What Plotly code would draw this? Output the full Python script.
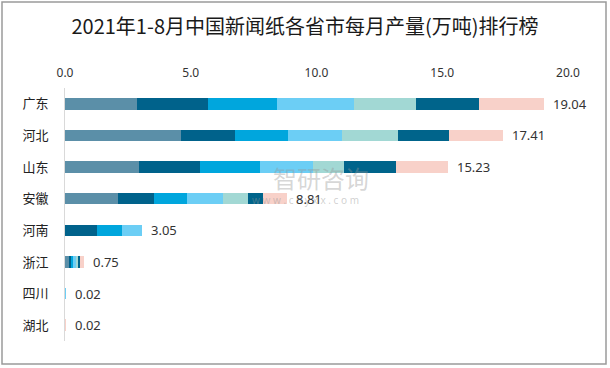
import plotly.graph_objects as go

provinces = ["广东", "河北", "山东", "安徽", "河南", "浙江", "四川", "湖北"]
months = ["1-2月", "3月", "4月", "5月", "6月", "7月", "8月"]
m12 = [2.87, 4.62, 2.94, 2.11, 0.00, 0.16, 0.00, 0.00]
m3 = [2.83, 2.15, 2.43, 1.43, 1.28, 0.08, 0.00, 0.00]
m4 = [2.71, 2.11, 2.39, 1.31, 1.00, 0.08, 0.00, 0.00]
m5 = [3.10, 2.15, 2.11, 1.43, 0.77, 0.12, 0.02, 0.00]
m6 = [2.43, 2.23, 1.23, 0.99, 0.00, 0.08, 0.00, 0.00]
m7 = [2.51, 1.99, 2.07, 0.60, 0.00, 0.08, 0.00, 0.00]
m8 = [2.59, 2.16, 2.06, 0.94, 0.00, 0.15, 0.00, 0.02]
totals = [19.04, 17.41, 15.23, 8.81, 3.05, 0.75, 0.02, 0.02]
x_ticks = [0, 5, 10, 15, 20]

series = [m12, m3, m4, m5, m6, m7, m8]
colors = ["#5B8FA8", "#00628B", "#00A6DD", "#6CCEF5", "#A2D8D4", "#00648B", "#F8D1C9"]

fig = go.Figure()
for name, vals, col in zip(months, series, colors):
    fig.add_trace(go.Bar(
        y=provinces, x=vals, name=name, orientation="h",
        marker=dict(color=col, line=dict(width=0)),
        showlegend=False, hoverinfo="x+name",
    ))

W, H = 610, 368
ml, mr, mt, mb = 65, 42, 88, 27
pw, ph = W - ml - mr, H - mt - mb

def px(x):
    return (x - ml) / pw

def py(y):
    return (H - mb - y) / ph

annotations = [
    dict(text="智研咨询", xref="paper", yref="paper", x=px(321), y=py(177),
         showarrow=False, font=dict(size=24, color="rgba(150,150,150,0.4)", family="Noto Sans CJK SC")),
    dict(text="w w w . c h y x x . c o m", xref="paper", yref="paper", x=px(305), y=py(200),
         showarrow=False, font=dict(size=10, color="rgba(150,150,150,0.45)", family="Noto Sans, sans-serif")),
]
for p, t in zip(provinces, totals):
    annotations.append(dict(
        x=t, y=p, xref="x", yref="y", text=f"{t:.2f}", showarrow=False,
        xanchor="left", yanchor="middle", xshift=7,
        font=dict(size=13, color="#333333", family="Noto Sans, sans-serif"),
    ))

fig.update_layout(
    width=W, height=H,
    margin=dict(l=ml, r=mr, t=mt, b=mb),
    barmode="stack", bargap=0.635,
    plot_bgcolor="white", paper_bgcolor="white",
    title=dict(
        text="2021年1-8月中国新闻纸各省市每月产量(万吨)排行榜",
        x=0.5, xanchor="center", y=1 - 27 / H, yanchor="middle",
        yref="container",
        font=dict(size=20, color="#1a1a1a", family="Noto Sans CJK SC"),
    ),
    xaxis=dict(
        side="top", range=[0, 20], tickvals=x_ticks, tickformat=".1f",
        showgrid=False, zeroline=False, showline=False, automargin=False,
        ticklabelstandoff=8,
        tickfont=dict(size=12, color="#333333", family="Noto Sans, sans-serif"),
    ),
    yaxis=dict(
        categoryorder="array", categoryarray=provinces, autorange="reversed",
        showgrid=False, zeroline=False, showline=True, linecolor="#d9d9d9", linewidth=1,
        ticklabelstandoff=13, automargin=False,
        tickfont=dict(size=13, color="#222222", family="Noto Sans CJK SC"),
    ),
    shapes=[dict(
        type="rect", xref="paper", yref="paper",
        x0=px(2), x1=px(606), y0=py(364), y1=py(2),
        line=dict(color="#9a9a9a", width=1.5), fillcolor="rgba(0,0,0,0)", layer="below",
    )],
    annotations=annotations,
)

fig.write_html(
    "out.html",
    config={"displayModeBar": False},
    post_script="document.body.style.margin='0';document.body.style.overflow='hidden';",
)
